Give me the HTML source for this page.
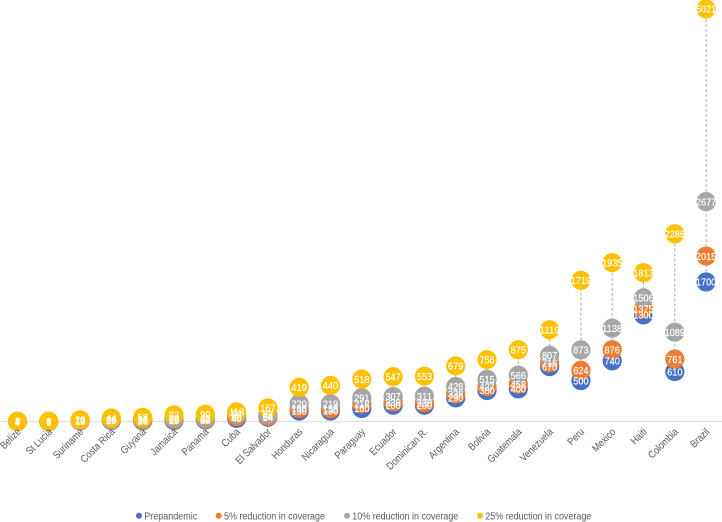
<!DOCTYPE html>
<html>
<head>
<meta charset="utf-8">
<title>Coverage reduction chart</title>
<style>
html,body{margin:0;padding:0;background:#fff;}
body{width:722px;height:522px;overflow:hidden;}
svg{display:block;filter:blur(0.3px);font-family:"Liberation Sans",sans-serif;}
</style>
</head>
<body>
<svg id="chart" width="722" height="522" viewBox="0 0 722 522">
  <line x1="0" x2="722" y1="421.5" y2="421.5" stroke="#e2e2e2" stroke-width="1.4"/>
  <g id="hilo"></g>
  <g id="marks"></g>
  <g id="values"></g>
  <g id="cats"></g>
  <g font-size="10" fill="#595959">
    <g>
      <circle cx="139" cy="515.7" r="3" fill="#4472C4"/>
      <text x="144.3" y="519.3" textLength="53" lengthAdjust="spacingAndGlyphs">Prepandemic</text>
    </g>
    <g>
      <circle cx="218.7" cy="515.7" r="3" fill="#ED7D31"/>
      <text x="224" y="519.3" textLength="101" lengthAdjust="spacingAndGlyphs">5% reduction in coverage</text>
    </g>
    <g>
      <circle cx="347" cy="515.7" r="3" fill="#A5A5A5"/>
      <text x="352.3" y="519.3" textLength="106" lengthAdjust="spacingAndGlyphs">10% reduction in coverage</text>
    </g>
    <g>
      <circle cx="480" cy="515.7" r="3" fill="#FFC000"/>
      <text x="485.3" y="519.3" textLength="106" lengthAdjust="spacingAndGlyphs">25% reduction in coverage</text>
    </g>
  </g>
</svg>
<script>
const categories = ["Belize","St Lucia","Suriname","Costa Rica","Guyana","Jamaica","Panama","Cuba","El Salvador","Honduras","Nicaragua","Paraguay","Ecuador","Dominican R.","Argentina","Bolivia","Guatemala","Venezuela","Peru","Mexico","Haiti","Colombia","Brazil"];
const prepandemic = [2,1,10,15,10,15,22,40,54,130,130,160,200,200,290,380,400,670,500,740,1300,610,1700];
const reduction5 = [3,2,12,20,14,25,30,60,64,160,158,218,239,230,338,427,458,716,624,876,1375,761,2015];
const reduction10 = [4,3,15,24,30,40,42,90,88,220,219,291,307,311,428,515,566,807,873,1138,1506,1089,2677];
const reduction25 = [5,6,23,44,53,83,90,118,167,419,440,518,547,553,679,756,875,1119,1719,1935,1813,2286,5021];

const seriesNames = ["prepandemic","reduction-5","reduction-10","reduction-25"];
const seriesColors = ["#4472C4","#ED7D31","#A5A5A5","#FFC000"];
const seriesValues = [prepandemic,reduction5,reduction10,reduction25];

const NS = "http://www.w3.org/2000/svg";
function xScale(i){ return 17.5 + i * 31.3; }
function yScale(v){ return 421.7 - v * 0.0822; }

const hilo = document.getElementById("hilo");
const marks = document.getElementById("marks");
const valuesG = document.getElementById("values");
const cats = document.getElementById("cats");

categories.forEach(function(name, i){
  const vals = seriesValues.map(function(s){ return s[i]; });
  const l = document.createElementNS(NS,"line");
  l.setAttribute("x1", xScale(i));
  l.setAttribute("x2", xScale(i));
  l.setAttribute("y1", yScale(Math.min.apply(null, vals)));
  l.setAttribute("y2", yScale(Math.max.apply(null, vals)));
  l.setAttribute("stroke", "#a9a9a9");
  l.setAttribute("stroke-width", "1");
  l.setAttribute("stroke-dasharray", "3 2");
  
  
  hilo.appendChild(l);

  const t = document.createElementNS(NS,"text");
  const ax = xScale(i) + 4;
  const ay = 432.5;
  t.setAttribute("x", 0);
  t.setAttribute("y", 0);
  t.setAttribute("text-anchor", "end");
  t.setAttribute("font-size", "10.5");
  t.setAttribute("fill", "#595959");
  t.setAttribute("transform", "translate(" + ax + " " + ay + ") rotate(-45) scale(0.85 1)");
  
  
  t.textContent = name;
  cats.appendChild(t);
});

seriesValues.forEach(function(series, s){
  series.forEach(function(v, i){
    const c = document.createElementNS(NS,"circle");
    c.setAttribute("cx", xScale(i));
    c.setAttribute("cy", yScale(v));
    c.setAttribute("r", "9.6");
    c.setAttribute("fill", seriesColors[s]);
    
    
    c.setAttribute("class", seriesNames[s]);
    marks.appendChild(c);

    const t = document.createElementNS(NS,"text");
    const str = String(v);
    t.setAttribute("x", xScale(i));
    t.setAttribute("y", yScale(v) + 3.7);
    t.setAttribute("text-anchor", "middle");
    t.setAttribute("font-size", "10.4");
    t.setAttribute("fill", "#ffffff");
    t.setAttribute("stroke", "#ffffff");
    t.setAttribute("stroke-width", "0.2");
    t.setAttribute("textLength", str.length * 5.1);
    t.setAttribute("lengthAdjust", "spacingAndGlyphs");
    
    
    t.textContent = str;
    valuesG.appendChild(t);
  });
});
</script>
</body>
</html>
